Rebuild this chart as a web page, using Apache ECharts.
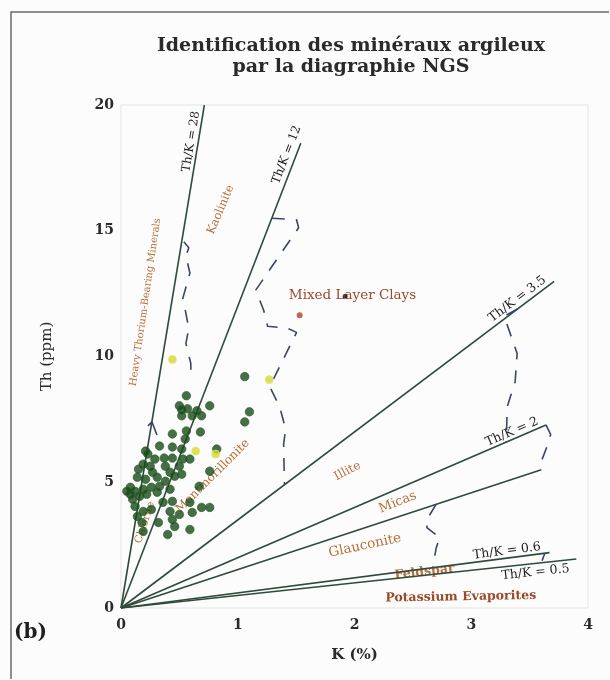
<!DOCTYPE html>
<html>
<head>
<meta charset="utf-8">
<script src="https://cdn.jsdelivr.net/npm/echarts@6/dist/echarts.min.js"></script>
<style>
  html, body { margin: 0; padding: 0; background: #fcfcfc; overflow: hidden; }
  #chart { width: 610px; height: 680px; }
</style>
</head>
<body>
<div id="chart"></div>
<script>
// NGS crossplot: potassium (%) against thorium (ppm) with clay mineral fields

const xTicks = [0, 1, 2, 3, 4];
const yTicks = [0, 5, 10, 15, 20];

// Th/K reference lines: ratio and the K value where each line stops
const ratioNames  = ['Th/K = 28', 'Th/K = 12', 'Th/K = 3.5', 'Th/K = 2', 'Th/K = 0.6', 'Th/K = 0.5'];
const ratioValues = [28, 12, 3.5, 2, 0.6, 0.5];
const ratioEndK   = [0.714, 1.54, 3.71, 3.64, 3.67, 3.9];

// unlabelled Micas / Glauconite divider, end point [K, Th]
const dividerEnd = [3.6, 5.5];

// dashed field boundaries, [K, Th]
const boundaryHeavy = [[0.538, 14.56], [0.581, 14.32], [0.556, 14.0], [0.590, 13.32], [0.530, 12.32],
  [0.581, 11.12], [0.556, 10.52], [0.598, 9.72], [0.598, 9.04]];
const boundaryHeavyFoot = [[0.231, 7.24], [0.265, 7.4], [0.308, 6.88]];
const boundaryMixed = [[1.292, 15.5], [1.504, 15.44], [1.521, 15.12], [1.154, 12.64], [1.222, 11.84],
  [1.256, 11.2], [1.427, 11.12], [1.504, 10.96], [1.274, 8.8], [1.359, 8.0], [1.410, 7.12],
  [1.393, 6.52], [1.40, 4.91]];
const boundaryIllite = [[3.40, 11.9], [3.282, 11.6], [3.393, 10.12], [3.376, 9.0], [3.308, 8.0], [3.30, 6.6]];
const boundaryMicas = [[3.64, 7.28], [3.68, 6.9], [3.65, 6.44], [3.59, 5.7], [3.6, 5.5]];
const boundaryGlauconite = [[2.70, 4.13], [2.62, 3.52], [2.62, 3.2], [2.73, 2.8], [2.70, 2.4], [2.67, 1.6]];
const boundaryFeldspar = [[3.63, 2.18], [3.6, 1.8]];

// samples [K, Th]
const samplesGreen = [
  [1.06, 9.2], [0.56, 8.44], [0.50, 8.04], [0.52, 7.88], [0.76, 8.04], [1.10, 7.8], [0.52, 7.64],
  [0.61, 7.64], [0.69, 7.64], [1.06, 7.4], [0.56, 7.04], [0.44, 6.92], [0.55, 6.72], [0.33, 6.44],
  [0.21, 6.24], [0.44, 6.4], [0.52, 6.32], [0.82, 6.32], [0.37, 5.96], [0.44, 5.96], [0.53, 5.92],
  [0.59, 5.92], [0.29, 5.92], [0.19, 5.72], [0.25, 5.64], [0.38, 5.64], [0.50, 5.64], [0.76, 5.44],
  [0.27, 5.4], [0.42, 5.4], [0.52, 5.32], [0.14, 5.2], [0.21, 5.12], [0.31, 5.2], [0.38, 5.04],
  [0.46, 5.24], [0.08, 4.8], [0.12, 4.64], [0.19, 4.72], [0.26, 4.8], [0.33, 4.84], [0.42, 4.72],
  [0.67, 4.84], [0.08, 4.52], [0.16, 4.44], [0.22, 4.52], [0.31, 4.6], [0.36, 4.2], [0.44, 4.24],
  [0.59, 4.2], [0.69, 4.0], [0.76, 4.0], [0.12, 4.04], [0.19, 3.84], [0.42, 3.84], [0.50, 3.72],
  [0.61, 3.8], [0.14, 3.64], [0.18, 3.4], [0.32, 3.4], [0.44, 3.52], [0.46, 3.24], [0.59, 3.12],
  [0.40, 2.92], [0.19, 3.04], [0.23, 6.12], [0.15, 5.52], [0.05, 4.64], [0.10, 4.32], [0.26, 3.92],
  [0.65, 7.84], [0.68, 7.0], [0.57, 7.92]
];
const samplesYellow = [[0.44, 9.88], [1.27, 9.08], [0.64, 6.24], [0.81, 6.12]];
const sampleRed = [[1.53, 11.64]];
const sampleBlack = [[1.92, 12.4]];

// field names
const fieldNames = ['Heavy Thorium-Bearing Minerals', 'Kaolinite', 'Mixed Layer Clays', 'Montmorillonite',
  'Chlorite', 'Illite', 'Micas', 'Glauconite', 'Feldspar', 'Potassium Evaporites'];

// ---- layout of the annotations (anchor [K, Th], rotation in degrees, font) ----
const fieldLayout = [
  { at: [0.209, 12.16], rot: 81.7, font: '10px' },
  { at: [0.855, 15.84], rot: 67, font: '11.5px' },
  { at: [1.983, 12.44], rot: 0, font: '13.5px', color: '#9a4a2a' },
  { at: [0.786, 5.24], rot: 45, font: '12px' },
  { at: [0.205, 3.40], rot: 72, font: '10.5px' },
  { at: [1.94, 5.44], rot: 28, font: '12px' },
  { at: [2.37, 4.20], rot: 22, font: '13px' },
  { at: [2.09, 2.48], rot: 12, font: '13.5px' },
  { at: [2.60, 1.43], rot: 6.7, font: 'bold 12.5px' },
  { at: [2.91, 0.44], rot: 1, font: 'bold 12.5px', color: '#9a4a2a' }
];
// position of each ratio label: distance back from the line end and sideways offset (px)
const ratioLabelLayout = [
  { back: 38, off: 7, size: 12 },
  { back: 16, off: 9, size: 12 },
  { back: 40, off: 8, size: 12.5 },
  { back: 34, off: 7, size: 12.5 },
  { back: 42, off: 7, size: 12.5 },
  { back: 42, off: -9, size: 12.5 }
];

const SERIF = '"DejaVu Serif", "Liberation Serif", serif';
const LINE_COLOR = '#2f4a3b';
const DASH_COLOR = '#3a4763';
const FIELD_COLOR = '#b5703d';

const chart = echarts.init(document.getElementById('chart'), null, { renderer: 'canvas' });

const ratioSeries = ratioValues.map((r, i) => ({
  type: 'line', name: ratioNames[i], z: 2, silent: true, symbol: 'none',
  data: [[0, 0], [ratioEndK[i], r * ratioEndK[i]]],
  lineStyle: { color: LINE_COLOR, width: 1.6 }
}));

const dashed = (data, type) => ({
  type: 'line', z: 2, silent: true, symbol: 'none', data: data,
  lineStyle: { color: DASH_COLOR, width: 1.6, type: type || [13, 11] }
});

const option = {
  backgroundColor: '#fcfcfc',
  animation: false,
  title: {
    text: 'Identification des minéraux argileux\npar la diagraphie NGS',
    left: 346, top: 31, textAlign: 'center',
    textStyle: { fontFamily: SERIF, fontSize: 19, fontWeight: 'bold', color: '#2a2a2a', lineHeight: 21 }
  },
  grid: { left: 121, right: 22, top: 105, bottom: 72, show: true, borderColor: '#e4e4e4', borderWidth: 1 },
  xAxis: {
    type: 'value', min: xTicks[0], max: xTicks[xTicks.length - 1], interval: xTicks[1] - xTicks[0],
    name: 'K (%)', nameLocation: 'middle', nameGap: 40,
    nameTextStyle: { fontFamily: SERIF, fontSize: 15, fontWeight: 'bold', color: '#2a2a2a' },
    axisLine: { show: false }, axisTick: { show: false }, splitLine: { show: false },
    axisLabel: { fontFamily: SERIF, fontSize: 14, fontWeight: 'bold', color: '#2a2a2a', margin: 10 }
  },
  yAxis: {
    type: 'value', min: yTicks[0], max: yTicks[yTicks.length - 1], interval: yTicks[1] - yTicks[0],
    name: 'Th (ppm)', nameLocation: 'middle', nameGap: 66,
    nameTextStyle: { fontFamily: SERIF, fontSize: 15, color: '#2a2a2a' },
    axisLine: { show: false }, axisTick: { show: false }, splitLine: { show: false },
    axisLabel: { fontFamily: SERIF, fontSize: 14, fontWeight: 'bold', color: '#2a2a2a', margin: 7 }
  },
  series: [
    ...ratioSeries,
    {
      type: 'line', name: 'divider', z: 2, silent: true, symbol: 'none',
      data: [[0, 0], dividerEnd], lineStyle: { color: LINE_COLOR, width: 1.6 }
    },
    dashed(boundaryHeavy),
    dashed(boundaryHeavyFoot, 'solid'),
    dashed(boundaryMixed),
    dashed(boundaryIllite),
    dashed(boundaryMicas),
    dashed(boundaryGlauconite),
    dashed(boundaryFeldspar, [8, 6]),
    {
      type: 'scatter', z: 4, symbolSize: 8.5, data: samplesGreen,
      itemStyle: { color: '#184a19', borderColor: '#2a5f27', borderWidth: 0.8 }
    },
    {
      type: 'scatter', z: 4, symbolSize: 8, data: samplesYellow,
      itemStyle: { color: '#d5d82c', borderColor: '#e4e67a', borderWidth: 1 }
    },
    {
      type: 'scatter', z: 4, symbolSize: 6, data: sampleRed,
      itemStyle: { color: '#b0402e' }
    },
    {
      type: 'scatter', z: 4, symbolSize: 5, data: sampleBlack,
      itemStyle: { color: '#151515' }
    }
  ]
};

chart.setOption(option);

// annotations placed through the chart's own coordinate system
const toPx = p => chart.convertToPixel({ gridIndex: 0 }, p);
const graphics = [];

fieldNames.forEach((name, i) => {
  const L = fieldLayout[i];
  const p = toPx(L.at);
  graphics.push({
    type: 'text', x: p[0], y: p[1], rotation: L.rot * Math.PI / 180, z: 1, silent: true,
    style: {
      text: name, font: L.font + ' ' + SERIF, fill: L.color || FIELD_COLOR,
      align: 'center', verticalAlign: 'middle', textAlign: 'center', textVerticalAlign: 'middle'
    }
  });
});

ratioNames.forEach((name, i) => {
  const L = ratioLabelLayout[i];
  const p0 = toPx([0, 0]);
  const p1 = toPx([ratioEndK[i], ratioValues[i] * ratioEndK[i]]);
  const dx = p1[0] - p0[0], dy = p1[1] - p0[1];
  const len = Math.hypot(dx, dy);
  const ux = dx / len, uy = dy / len;
  const nx = uy, ny = -ux;
  const cx = p1[0] - ux * L.back + nx * L.off;
  const cy = p1[1] - uy * L.back + ny * L.off;
  graphics.push({
    type: 'text', x: cx, y: cy, rotation: Math.atan2(-dy, dx), z: 6, silent: true,
    style: {
      text: name, font: L.size + 'px ' + SERIF, fill: '#1c1c1c',
      align: 'center', verticalAlign: 'middle', textAlign: 'center', textVerticalAlign: 'middle'
    }
  });
});

// panel frame (top and left edges) and panel letter
graphics.push(
  {
    type: 'polyline', z: 6, silent: true,
    shape: { points: [[609, 12], [11, 12], [11, 679]] },
    style: { stroke: '#6a6a6a', lineWidth: 1.5, fill: null }
  },
  {
    type: 'text', x: 14, y: 633, z: 6, silent: true,
    style: { text: '(b)', font: 'bold 20px ' + SERIF, fill: '#1e1e1e', align: 'left', verticalAlign: 'middle', textAlign: 'left', textVerticalAlign: 'middle' }
  }
);

chart.setOption({ graphic: { elements: graphics } });
</script>
</body>
</html>
